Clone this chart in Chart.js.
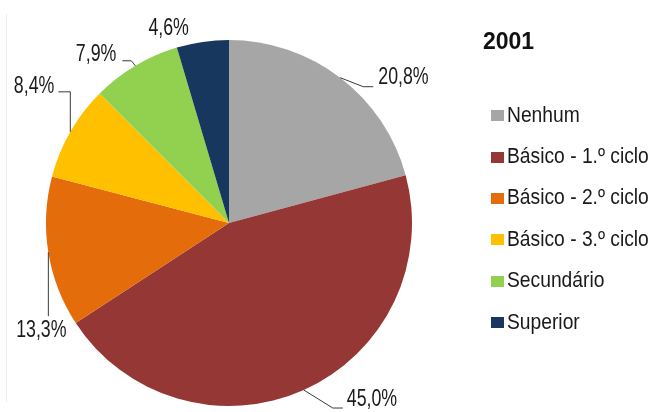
<!DOCTYPE html>
<html>
<head>
<meta charset="utf-8">
<script src="https://cdn.jsdelivr.net/npm/chart.js@4"></script>
<style>
  html, body { margin: 0; padding: 0; background: #fff; }
  #wrap { position: relative; width: 655px; height: 412px; overflow: hidden; }
  #edge { position: absolute; left: 6px; top: 14px; height: 388px; border-left: 1px solid #ececec; }
  #chart { position: absolute; left: 0; top: 0; }
  #title { position: absolute; left: 483px; top: 28px; font: bold 23px "Liberation Sans", Arial, sans-serif; color: #111; }
  #legend { position: absolute; left: 491px; top: 94px; font: 22px "Liberation Sans", Arial, sans-serif; color: #1a1a1a; }
  #legend .row { height: 41.4px; display: flex; align-items: center; white-space: nowrap; }
  #legend .box { width: 13px; height: 11px; margin-right: 3px; margin-top: 2px; flex: none; }
  #legend .name { display: inline-block; transform: scaleX(0.875); transform-origin: left center; }
</style>
</head>
<body>
<div id="wrap">
  <div id="edge"></div>
  <canvas id="chart" width="655" height="412"></canvas>
  <div id="title">2001</div>
  <div id="legend"></div>
</div>
<script>
const categories = ['Nenhum', 'Básico - 1.º ciclo', 'Básico - 2.º ciclo', 'Básico - 3.º ciclo', 'Secundário', 'Superior']
const shares = [20.8, 45.0, 13.3, 8.4, 7.9, 4.6]
const colors = ['#A6A6A6', '#953735', '#E46C0A', '#FFC000', '#92D050', '#17375E']

// where each value label sits, relative to the point on the rim at the slice's middle
const labelLayout = [
    { line: [[23, 9], [33, 9]], text: [38, 0], align: 'left' },
    { line: [[29, 18], [39, 18]], text: [43, 9], align: 'left' },
    { line: [[0, 64]], text: [-7, 78], align: 'center' },
    { line: [[0, -40], [-12, -40]], text: [-16, -45], align: 'right' },
    { line: [[-4, -5], [-13, -5]], text: [-19, -11], align: 'right' },
    { line: [], text: [-34, -14], align: 'center' }
]

// no narrow face installed, so squeeze the regular one
const squeeze = 0.74

const legend = document.querySelector('#legend')
categories.forEach((name, i) => {
    let row = document.createElement('div')
    row.className = 'row'
    let box = document.createElement('span')
    box.className = 'box'
    box.style.background = colors[i]
    let txt = document.createElement('span')
    txt.className = 'name'
    txt.textContent = name
    row.append(box, txt)
    legend.append(row)
})

const valueLabels = {
    id: 'valueLabels',
    afterDatasetsDraw(chart) {
        const ctx = chart.ctx
        const meta = chart.getDatasetMeta(0)
        meta.data.forEach((arc, i) => {
            const p = arc.getProps(['x', 'y', 'startAngle', 'endAngle', 'outerRadius'], true)
            const mid = (p.startAngle + p.endAngle) / 2
            const ax = p.x + Math.cos(mid) * p.outerRadius
            const ay = p.y + Math.sin(mid) * p.outerRadius
            const lay = labelLayout[i]
            ctx.save()
            if (lay.line.length) {
                ctx.beginPath()
                ctx.moveTo(ax, ay)
                lay.line.forEach(pt => ctx.lineTo(ax + pt[0], ay + pt[1]))
                ctx.strokeStyle = '#3a3a3a'
                ctx.lineWidth = 1
                ctx.stroke()
            }
            ctx.translate(ax + lay.text[0], ay + lay.text[1])
            ctx.scale(squeeze, 1)
            ctx.fillStyle = '#1a1a1a'
            ctx.font = '24px "Liberation Sans", Arial, sans-serif'
            ctx.textAlign = lay.align
            ctx.textBaseline = 'middle'
            const label = shares[i].toFixed(1).replace('.', ',') + '%'
            ctx.fillText(label, 0, 0)
            ctx.restore()
        })
    }
}

new Chart(document.querySelector('#chart'), {
    type: 'pie',
    data: {
        labels: categories,
        datasets: [{
            data: shares,
            backgroundColor: colors,
            borderWidth: 0
        }]
    },
    options: {
        responsive: false,
        animation: false,
        layout: { padding: { left: 46, right: 243, top: 40, bottom: 6 } },
        plugins: {
            legend: { display: false },
            tooltip: { enabled: false }
        }
    },
    plugins: [valueLabels]
})
</script>
</body>
</html>
